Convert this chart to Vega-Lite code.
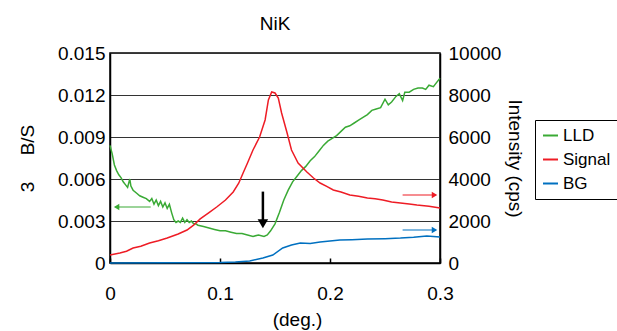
{
  "$schema": "https://vega.github.io/schema/vega-lite/v6.json",
  "width": 330,
  "height": 210,
  "autosize": "none",
  "padding": {"left": 110, "top": 53, "right": 177, "bottom": 68},
  "config": {
    "font": "Liberation Sans",
    "view": {"stroke": "#000", "strokeWidth": 1.5},
    "axis": {"labelColor": "#000", "titleColor": "#000", "labelFontSize": 19, "titleFontSize": 19, "titleFontWeight": "normal", "domainColor": "#000", "domainWidth": 1.5}
  },
  "title": {"text": "NiK", "fontSize": 19, "fontWeight": "normal", "color": "#000", "offset": 10},
  "datasets": {
    "lld": [
      {"deg": 0.000, "v": 0.0084}, {"deg": 0.002, "v": 0.0078}, {"deg": 0.004, "v": 0.0070}, {"deg": 0.006, "v": 0.0066},
      {"deg": 0.008, "v": 0.0063}, {"deg": 0.010, "v": 0.0061}, {"deg": 0.012, "v": 0.0058}, {"deg": 0.014, "v": 0.0056},
      {"deg": 0.016, "v": 0.0054}, {"deg": 0.018, "v": 0.0060}, {"deg": 0.019, "v": 0.0055}, {"deg": 0.021, "v": 0.0052},
      {"deg": 0.024, "v": 0.0050}, {"deg": 0.027, "v": 0.0048}, {"deg": 0.030, "v": 0.0047}, {"deg": 0.033, "v": 0.0046},
      {"deg": 0.036, "v": 0.0044}, {"deg": 0.038, "v": 0.0046}, {"deg": 0.040, "v": 0.0042}, {"deg": 0.042, "v": 0.0045},
      {"deg": 0.044, "v": 0.0041}, {"deg": 0.046, "v": 0.0044}, {"deg": 0.048, "v": 0.0040}, {"deg": 0.050, "v": 0.0043},
      {"deg": 0.052, "v": 0.0039}, {"deg": 0.054, "v": 0.0042}, {"deg": 0.056, "v": 0.0036}, {"deg": 0.058, "v": 0.0031},
      {"deg": 0.060, "v": 0.0029}, {"deg": 0.062, "v": 0.0030}, {"deg": 0.064, "v": 0.0029}, {"deg": 0.066, "v": 0.0032},
      {"deg": 0.068, "v": 0.0029}, {"deg": 0.070, "v": 0.0031}, {"deg": 0.072, "v": 0.0029}, {"deg": 0.074, "v": 0.0030},
      {"deg": 0.076, "v": 0.0028}, {"deg": 0.078, "v": 0.0028}, {"deg": 0.080, "v": 0.0027}, {"deg": 0.085, "v": 0.0026},
      {"deg": 0.090, "v": 0.0025}, {"deg": 0.095, "v": 0.0024}, {"deg": 0.100, "v": 0.0023}, {"deg": 0.105, "v": 0.0023},
      {"deg": 0.110, "v": 0.0022}, {"deg": 0.115, "v": 0.0021}, {"deg": 0.120, "v": 0.0021}, {"deg": 0.125, "v": 0.0020},
      {"deg": 0.130, "v": 0.0019}, {"deg": 0.135, "v": 0.0020}, {"deg": 0.140, "v": 0.0019}, {"deg": 0.143, "v": 0.0020},
      {"deg": 0.146, "v": 0.0023}, {"deg": 0.150, "v": 0.0028}, {"deg": 0.154, "v": 0.0036}, {"deg": 0.158, "v": 0.0045},
      {"deg": 0.162, "v": 0.0052}, {"deg": 0.166, "v": 0.0058}, {"deg": 0.170, "v": 0.0062}, {"deg": 0.174, "v": 0.0066},
      {"deg": 0.178, "v": 0.0069}, {"deg": 0.182, "v": 0.0073}, {"deg": 0.186, "v": 0.0076}, {"deg": 0.190, "v": 0.0080},
      {"deg": 0.194, "v": 0.0084}, {"deg": 0.198, "v": 0.0087}, {"deg": 0.202, "v": 0.0089}, {"deg": 0.206, "v": 0.0091},
      {"deg": 0.210, "v": 0.0094}, {"deg": 0.214, "v": 0.0097}, {"deg": 0.218, "v": 0.0098}, {"deg": 0.222, "v": 0.0100},
      {"deg": 0.226, "v": 0.0102}, {"deg": 0.230, "v": 0.0104}, {"deg": 0.234, "v": 0.0106}, {"deg": 0.238, "v": 0.0109},
      {"deg": 0.242, "v": 0.0110}, {"deg": 0.246, "v": 0.0111}, {"deg": 0.250, "v": 0.0117}, {"deg": 0.253, "v": 0.0113},
      {"deg": 0.256, "v": 0.0115}, {"deg": 0.260, "v": 0.0119}, {"deg": 0.263, "v": 0.0121}, {"deg": 0.266, "v": 0.0116},
      {"deg": 0.268, "v": 0.0122}, {"deg": 0.272, "v": 0.0122}, {"deg": 0.276, "v": 0.0124}, {"deg": 0.280, "v": 0.0125},
      {"deg": 0.284, "v": 0.0125}, {"deg": 0.287, "v": 0.0124}, {"deg": 0.290, "v": 0.0127}, {"deg": 0.294, "v": 0.0126},
      {"deg": 0.297, "v": 0.0129}, {"deg": 0.300, "v": 0.0132}
    ],
    "sig": [
      {"series": "Signal", "deg": 0.000, "v": 381}, {"series": "Signal", "deg": 0.009, "v": 476}, {"series": "Signal", "deg": 0.015, "v": 560},
      {"series": "Signal", "deg": 0.021, "v": 714}, {"series": "Signal", "deg": 0.028, "v": 800},
      {"series": "Signal", "deg": 0.036, "v": 952}, {"series": "Signal", "deg": 0.044, "v": 1060}, {"series": "Signal", "deg": 0.052, "v": 1190}, {"series": "Signal", "deg": 0.062, "v": 1380},
      {"series": "Signal", "deg": 0.070, "v": 1571}, {"series": "Signal", "deg": 0.076, "v": 1800}, {"series": "Signal", "deg": 0.082, "v": 2100},
      {"series": "Signal", "deg": 0.090, "v": 2400}, {"series": "Signal", "deg": 0.097, "v": 2667}, {"series": "Signal", "deg": 0.105, "v": 3000},
      {"series": "Signal", "deg": 0.112, "v": 3381}, {"series": "Signal", "deg": 0.117, "v": 3800}, {"series": "Signal", "deg": 0.121, "v": 4286},
      {"series": "Signal", "deg": 0.125, "v": 4762}, {"series": "Signal", "deg": 0.130, "v": 5381}, {"series": "Signal", "deg": 0.136, "v": 6000},
      {"series": "Signal", "deg": 0.141, "v": 6810}, {"series": "Signal", "deg": 0.144, "v": 7762}, {"series": "Signal", "deg": 0.147, "v": 8143},
      {"series": "Signal", "deg": 0.150, "v": 8095}, {"series": "Signal", "deg": 0.153, "v": 7857}, {"series": "Signal", "deg": 0.156, "v": 7143},
      {"series": "Signal", "deg": 0.161, "v": 6190}, {"series": "Signal", "deg": 0.165, "v": 5381}, {"series": "Signal", "deg": 0.171, "v": 4762},
      {"series": "Signal", "deg": 0.179, "v": 4333}, {"series": "Signal", "deg": 0.185, "v": 4048}, {"series": "Signal", "deg": 0.191, "v": 3810},
      {"series": "Signal", "deg": 0.197, "v": 3650}, {"series": "Signal", "deg": 0.203, "v": 3476}, {"series": "Signal", "deg": 0.210, "v": 3380},
      {"series": "Signal", "deg": 0.218, "v": 3238}, {"series": "Signal", "deg": 0.226, "v": 3180}, {"series": "Signal", "deg": 0.234, "v": 3095},
      {"series": "Signal", "deg": 0.241, "v": 3060}, {"series": "Signal", "deg": 0.248, "v": 3000}, {"series": "Signal", "deg": 0.256, "v": 2900},
      {"series": "Signal", "deg": 0.264, "v": 2857}, {"series": "Signal", "deg": 0.272, "v": 2810}, {"series": "Signal", "deg": 0.279, "v": 2762},
      {"series": "Signal", "deg": 0.290, "v": 2700}, {"series": "Signal", "deg": 0.300, "v": 2619},
      {"series": "BG", "deg": 0.000, "v": 0}, {"series": "BG", "deg": 0.050, "v": 10}, {"series": "BG", "deg": 0.100, "v": 20},
      {"series": "BG", "deg": 0.114, "v": 48}, {"series": "BG", "deg": 0.127, "v": 95}, {"series": "BG", "deg": 0.139, "v": 238},
      {"series": "BG", "deg": 0.148, "v": 381}, {"series": "BG", "deg": 0.157, "v": 714}, {"series": "BG", "deg": 0.165, "v": 857},
      {"series": "BG", "deg": 0.173, "v": 952}, {"series": "BG", "deg": 0.182, "v": 930}, {"series": "BG", "deg": 0.191, "v": 1000},
      {"series": "BG", "deg": 0.200, "v": 1050}, {"series": "BG", "deg": 0.209, "v": 1095}, {"series": "BG", "deg": 0.220, "v": 1110},
      {"series": "BG", "deg": 0.234, "v": 1143}, {"series": "BG", "deg": 0.250, "v": 1160}, {"series": "BG", "deg": 0.264, "v": 1190},
      {"series": "BG", "deg": 0.276, "v": 1230}, {"series": "BG", "deg": 0.288, "v": 1286}, {"series": "BG", "deg": 0.300, "v": 1238}
    ],
    "arrL": [
      {"series": "LLD", "x1": 0.005, "x2": 0.037, "y": 0.0040, "hx": 0.006}
    ],
    "arrBlack": [
      {"x": 0.139, "y1": 0.0051, "y2": 0.0030, "hy": 0.0028}
    ],
    "arrR": [
      {"series": "Signal", "x1": 0.266, "x2": 0.296, "y": 3238, "hx": 0.295},
      {"series": "BG", "x1": 0.266, "x2": 0.296, "y": 1571, "hx": 0.295}
    ]
  },
  "layer": [
    {
      "layer": [
        {
          "data": {"name": "lld"},
          "transform": [{"calculate": "'LLD'", "as": "series"}],
          "mark": {"type": "line", "strokeWidth": 1.5, "interpolate": "linear"},
          "encoding": {
            "x": {"field": "deg", "type": "quantitative", "scale": {"domain": [0, 0.3], "nice": false},
              "axis": {"values": [0, 0.1, 0.2, 0.3], "format": ".1~f", "title": "(deg.)", "grid": false, "ticks": true, "tickSize": -5, "tickColor": "#000", "tickWidth": 1.5, "labelFlush": false, "labelPadding": 26, "titlePadding": 7, "titleX": 187}},
            "y": {"field": "v", "type": "quantitative", "scale": {"domain": [0, 0.015], "nice": false},
              "axis": {"orient": "left", "values": [0, 0.003, 0.006, 0.009, 0.012, 0.015], "format": ".3~f", "title": "3\u00a0\u00a0\u00a0\u00a0\u00a0B/S", "grid": true, "gridColor": "#333", "gridWidth": 1.2, "gridOpacity": 1, "ticks": false, "labelPadding": 5, "titlePadding": 20}},
            "color": {"field": "series", "type": "nominal", "scale": {"domain": ["LLD", "Signal", "BG"], "range": ["#3aaa35", "#ee1c25", "#0070c0"]},
              "legend": {"title": null, "orient": "none", "legendX": 425, "legendY": 67, "strokeColor": "#000", "padding": 7, "labelFontSize": 17, "labelColor": "#000", "symbolType": "stroke", "symbolSize": 225, "symbolStrokeWidth": 2, "rowPadding": 6, "labelOffset": 4}}
          }
        },
        {
          "data": {"name": "arrL"},
          "mark": {"type": "rule", "strokeWidth": 1.2},
          "encoding": {
            "x": {"field": "x1", "type": "quantitative"},
            "x2": {"field": "x2"},
            "y": {"field": "y", "type": "quantitative"},
            "color": {"field": "series", "type": "nominal"}
          }
        },
        {
          "data": {"name": "arrL"},
          "mark": {"type": "point", "shape": "triangle-left", "filled": true, "size": 40, "opacity": 1},
          "encoding": {
            "x": {"field": "hx", "type": "quantitative"},
            "y": {"field": "y", "type": "quantitative"},
            "color": {"field": "series", "type": "nominal"}
          }
        },
        {
          "data": {"name": "arrBlack"},
          "mark": {"type": "rule", "strokeWidth": 2.5, "color": "#000"},
          "encoding": {
            "x": {"field": "x", "type": "quantitative"},
            "y": {"field": "y1", "type": "quantitative"},
            "y2": {"field": "y2"}
          }
        },
        {
          "data": {"name": "arrBlack"},
          "mark": {"type": "point", "shape": "triangle-down", "filled": true, "size": 110, "color": "#000", "opacity": 1},
          "encoding": {
            "x": {"field": "x", "type": "quantitative"},
            "y": {"field": "hy", "type": "quantitative"}
          }
        }
      ]
    },
    {
      "layer": [
        {
          "data": {"name": "sig"},
          "mark": {"type": "line", "strokeWidth": 1.5},
          "encoding": {
            "x": {"field": "deg", "type": "quantitative"},
            "y": {"field": "v", "type": "quantitative", "scale": {"domain": [0, 10000], "nice": false},
              "axis": {"orient": "right", "values": [0, 2000, 4000, 6000, 8000, 10000], "format": "d", "title": "Intensity (cps)", "grid": false, "ticks": false, "labelPadding": 8, "titlePadding": 4}},
            "color": {"field": "series", "type": "nominal"},
            "detail": {"field": "series"}
          }
        },
        {
          "data": {"name": "arrR"},
          "mark": {"type": "rule", "strokeWidth": 1.2},
          "encoding": {
            "x": {"field": "x1", "type": "quantitative"},
            "x2": {"field": "x2"},
            "y": {"field": "y", "type": "quantitative"},
            "color": {"field": "series", "type": "nominal"}
          }
        },
        {
          "data": {"name": "arrR"},
          "mark": {"type": "point", "shape": "triangle-right", "filled": true, "size": 40, "opacity": 1},
          "encoding": {
            "x": {"field": "hx", "type": "quantitative"},
            "y": {"field": "y", "type": "quantitative"},
            "color": {"field": "series", "type": "nominal"}
          }
        }
      ]
    }
  ],
  "resolve": {"scale": {"y": "independent"}}
}
